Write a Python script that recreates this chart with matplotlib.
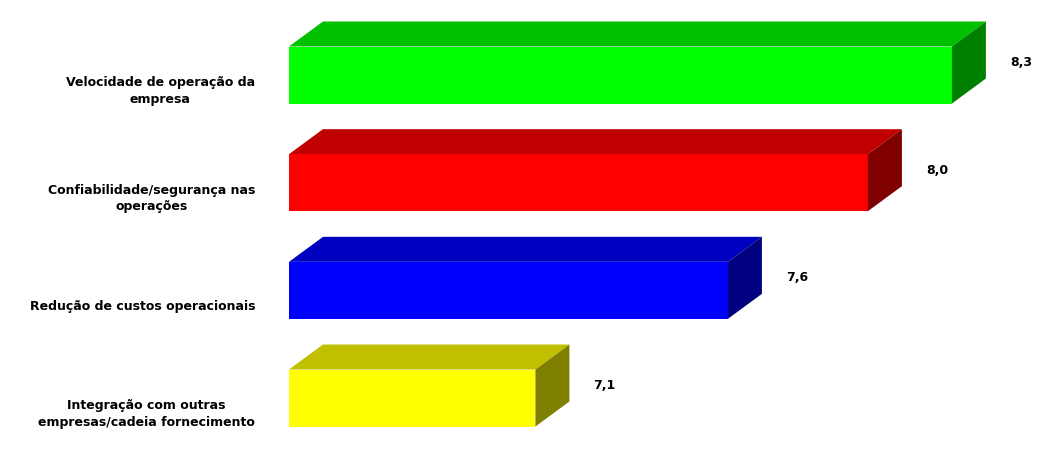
import matplotlib
matplotlib.use("Agg")
import matplotlib.pyplot as plt
from matplotlib.patches import Polygon

# Data
categories = [
    "Velocidade de operação da\nempresa",
    "Confiabilidade/segurança nas\noperações",
    "Redução de custos operacionais",
    "Integração com outras\nempresas/cadeia fornecimento",
]
values = [8.27, 8.03, 7.63, 7.08]
front_colors = ["#00FF00", "#FF0000", "#0000FF", "#FFFF00"]
top_colors = ["#00C000", "#C00000", "#0000C0", "#C0C000"]
side_colors = ["#008000", "#800000", "#000080", "#808000"]

W, H = 1061, 451
fig = plt.figure(figsize=(W / 100, H / 100), dpi=100)
ax = fig.add_axes([0, 0, 1, 1])
ax.set_axis_off()

# axis scaling (pixels per unit)
px_per_x = 350.0
base = 6.376
px_per_y = 107.67
ax.set_xlim(base - 289 / px_per_x, base + (W - 289) / px_per_x)
ax.set_ylim((H - 75) / px_per_y, -75 / px_per_y)

bar_h = 57 / px_per_y
dx = 34 / px_per_x
dy = 25 / px_per_y

for i, (v, fc, tc, sc) in enumerate(zip(values, front_colors, top_colors, side_colors)):
    ax.barh(i, v - base, left=base, height=bar_h, color=fc, edgecolor="none", zorder=2)
    top = i - bar_h / 2
    bot = i + bar_h / 2
    ax.add_patch(Polygon([(base, top), (v, top), (v + dx, top - dy), (base + dx, top - dy)],
                         closed=True, facecolor=tc, edgecolor="none", zorder=2))
    ax.add_patch(Polygon([(v, top), (v + dx, top - dy), (v + dx, bot - dy), (v, bot)],
                         closed=True, facecolor=sc, edgecolor="none", zorder=2))
    label = f"{v:.1f}".replace(".", ",")
    ax.text(v + dx + 24 / px_per_x, i - dy / 2, label, ha="left", va="center",
            fontsize=9, fontweight="bold", color="black")
    ax.text(base - 34 / px_per_x, i + 16 / px_per_y, categories[i], ha="right", va="center",
            multialignment="center", fontsize=9, fontweight="bold", color="black",
            linespacing=1.35)

fig.savefig("out.png", dpi=100, facecolor="white")
